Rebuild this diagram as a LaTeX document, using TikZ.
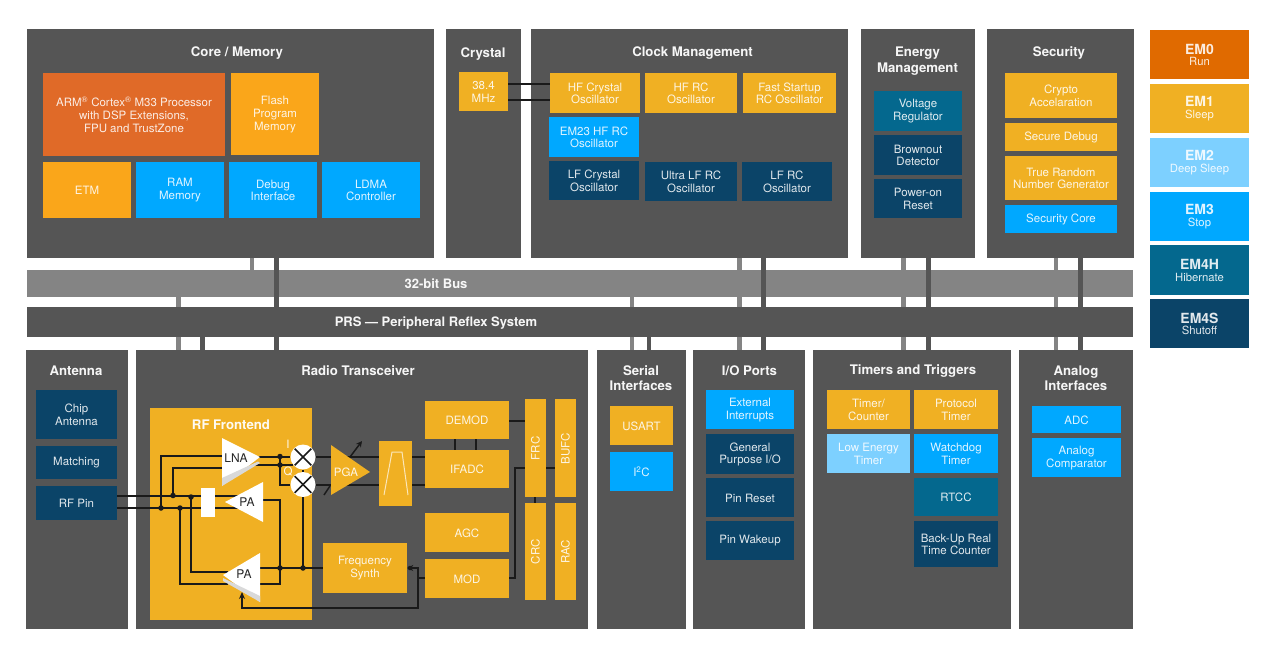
\documentclass[tikz,border=0pt]{standalone}
\usepackage{fontspec}
\usepackage{graphicx}
\setmainfont{TeX Gyre Heros}
\usetikzlibrary{arrows.meta,calc}
\definecolor{panel}{HTML}{555555}
\definecolor{busc}{HTML}{848484}
\definecolor{orng}{HTML}{E06A28}
\definecolor{emzero}{HTML}{E06A00}
\definecolor{amber}{HTML}{FAA61A}
\definecolor{yel}{HTML}{F0B023}
\definecolor{sky}{HTML}{00A8FF}
\definecolor{lsky}{HTML}{7DD0FF}
\definecolor{teal}{HTML}{04688E}
\definecolor{navy}{HTML}{0B4468}
\definecolor{wire}{HTML}{1A1A1A}
\definecolor{cream}{HTML}{FBE6B8}
\tikzset{
  bxs/.style={inner sep=0pt,align=center,font=\fontsize{11.5}{12.8}\selectfont,text=white,text opacity=.88},
  ttl/.style={inner sep=0pt,yshift=-1pt,align=center,font=\fontsize{13.2}{15.6}\selectfont\bfseries,text=white,text opacity=.95},
  wr/.style={draw=wire,line width=2pt},
  stubl/.style={draw=busc,line width=4.8pt},
  stubd/.style={draw=panel,line width=4.8pt},
  dot/.style={circle,fill=wire,inner sep=0pt,minimum size=5.5pt},
  mixer/.style={circle,fill=white,inner sep=0pt,minimum size=25pt},
  ampl/.style={inner sep=0pt,font=\fontsize{12}{13}\selectfont,text=black!85},
}
\newcommand{\bx}[7]{\node[inner sep=0pt,fill=#6,minimum width={(#4-#2)*1pt},minimum height={(#5-#3)*1pt}] (#1) at ({(#2+#4)/2},{(#3+#5)/2}) {};
  \node[bxs,yshift=-0.4pt] (#1t) at (#1.center) {#7};}
\newcommand{\ttlat}[4]{\node[ttl] (#1) at (#2,#3) {#4};}
\begin{document}
\begin{tikzpicture}[x=1pt,y=-1pt]
\useasboundingbox (0,0) rectangle (1280,670);
\fill[white] (0,0) rectangle (1280,670);
% panels
\bx{core}{27}{29}{434}{258}{panel}{}
\bx{xtal}{446}{29}{521}{258}{panel}{}
\bx{clock}{531}{29}{848}{258}{panel}{}
\bx{energy}{861}{29}{975}{258}{panel}{}
\bx{secur}{987}{29}{1134}{258}{panel}{}
\bx{antenna}{26}{350}{128}{629}{panel}{}
\bx{radio}{136}{350}{588}{629}{panel}{}
\bx{serial}{597}{350}{686}{629}{panel}{}
\bx{ioports}{693}{350}{805}{629}{panel}{}
\bx{timers}{813}{350}{1011}{629}{panel}{}
\bx{analog}{1019}{350}{1133}{629}{panel}{}
% bus placeholders and stubs
\node[inner sep=0pt,minimum width=1106pt,minimum height=27pt] (bus) at (580,283.5) {};
\node[inner sep=0pt,minimum width=1106pt,minimum height=30pt] (prs) at (580,322) {};
\foreach \x/\t in {252/core,739.5/clock,903.5/energy,1056/secur}{
  \draw[stubl] (\x,0 |- \t.south) -- (\x,0 |- bus.north);}
\foreach \x/\b in {178.5/radio,739.5/ioports,903.5/timers,1056/analog}{
  \draw[stubl] (\x,0 |- bus.south) -- (\x,0 |- prs.north);
  \draw[stubl] (\x,0 |- prs.south) -- (\x,0 |- \b.north);}
\draw[stubl] (632,0 |- bus.south) -- (632,0 |- prs.north);
\draw[stubl] (632,0 |- prs.south) -- (632,0 |- serial.north);
\fill[busc] (bus.north west) rectangle (bus.south east);
\fill[panel] (prs.north west) rectangle (prs.south east);
\foreach \x/\t/\b in {276.5/core/radio,763.8/clock/ioports,928.3/energy/timers,1080.7/secur/analog}{
  \draw[stubd] (\x,0 |- \t.south) -- (\x,0 |- prs.north);
  \draw[stubd] (\x,0 |- prs.south) -- (\x,0 |- \b.north);}
\draw[stubd] (202.5,0 |- prs.south) -- (202.5,0 |- radio.north);
\draw[stubd] (649,0 |- prs.south) -- (649,0 |- serial.north);
\node[ttl,font=\fontsize{13}{14}\selectfont\bfseries] (buslbl) at (436,282.5) {32-bit Bus};
\node[ttl,font=\fontsize{13}{14}\selectfont\bfseries] (prslbl) at (436,322) {PRS — Peripheral Reflex System};
% titles
\ttlat{t1}{237}{52}{Core / Memory}
\ttlat{t2}{483}{53}{Crystal}
\ttlat{t3}{692.5}{52}{Clock Management}
\ttlat{t4}{917.5}{60}{Energy\\Management}
\ttlat{t5}{1059}{52}{Security}
\ttlat{t6}{76}{369.3}{Antenna}
\ttlat{t7}{358}{369.3}{Radio Transceiver}
\ttlat{t8}{641}{377.3}{Serial\\Interfaces}
\ttlat{t9}{749.5}{369.3}{I/O Ports}
\ttlat{t10}{913}{370}{Timers and Triggers}
\ttlat{t11}{1076}{377.3}{Analog\\Interfaces}
% core
\bx{arm}{43}{73}{225}{156}{orng}{ARM\textsuperscript{®} Cortex\textsuperscript{®} M33 Processor\\with DSP Extensions,\\FPU and TrustZone}
\bx{flash}{231}{73}{319}{155}{amber}{Flash\\Program\\Memory}
\bx{etm}{43}{162}{131}{218}{amber}{ETM}
\bx{ram}{136}{162}{224}{218}{sky}{RAM\\Memory}
\bx{debug}{229}{162}{317}{218}{sky}{Debug\\Interface}
\bx{ldma}{322}{162}{420}{218}{sky}{LDMA\\Controller}
% crystal / clock
\bx{mhz}{459}{72}{508}{111}{yel}{38.4\\MHz}
\bx{hfx}{550}{73}{640}{113}{yel}{HF Crystal\\Oscillator}
\bx{hfrc}{645}{73}{737}{113}{yel}{HF RC\\Oscillator}
\bx{fast}{743}{73}{836}{113}{yel}{Fast Startup\\RC Oscillator}
\bx{em23}{549}{117}{639}{157}{sky}{EM23 HF RC\\Oscillator}
\bx{lfx}{549}{161}{639}{200}{navy}{LF Crystal\\Oscillator}
\bx{ulf}{645}{162}{737}{201}{navy}{Ultra LF RC\\Oscillator}
\bx{lfrc}{742}{162}{832}{201}{navy}{LF RC\\Oscillator}
\draw[wr] (508,84) coordinate (mhzA) -- (mhzA -| hfx.west);
\draw[wr] (508,99.5) coordinate (mhzB) -- (mhzB -| hfx.west);
% energy / security
\bx{volt}{874}{91}{962}{131}{teal}{Voltage\\Regulator}
\bx{brown}{874}{135}{962}{175}{navy}{Brownout\\Detector}
\bx{por}{874}{179}{962}{218}{navy}{Power-on\\Reset}
\bx{crypto}{1005}{73}{1117}{118}{yel}{Crypto\\Accelaration}
\bx{sdebug}{1005}{123}{1117}{151}{yel}{Secure Debug}
\bx{trng}{1005}{156}{1117}{200}{yel}{True Random\\Number Generator}
\bx{score}{1005}{205}{1117}{233}{sky}{Security Core}
% EM legend
\newcommand{\emlab}[2]{{\fontsize{14}{14}\selectfont\bfseries #1}\\[-1pt]{\fontsize{11.3}{13}\selectfont #2}}
\bx{em0}{1150}{30}{1249}{79}{emzero}{\emlab{EM0}{Run}}
\bx{em1}{1150}{84}{1249}{133}{yel}{\emlab{EM1}{Sleep}}
\bx{em2}{1150}{138}{1249}{187}{lsky}{\emlab{EM2}{Deep Sleep}}
\bx{em3}{1150}{192}{1249}{241}{sky}{\emlab{EM3}{Stop}}
\bx{em4h}{1150}{245}{1249}{295}{teal}{\emlab{EM4H}{Hibernate}}
\bx{em4s}{1150}{299}{1249}{348}{navy}{\emlab{EM4S}{Shutoff}}
% antenna
\bx{chip}{36}{390}{117}{439}{navy}{Chip\\Antenna}
\bx{match}{36}{446}{117}{479}{navy}{Matching}
\bx{rfpin}{36}{486}{117}{520}{navy}{RF Pin}
% serial, io, timers, analog
\bx{usart}{610}{406}{673}{445}{yel}{USART}
\bx{itwoc}{610}{452}{673}{491}{sky}{I\textsuperscript{2}C}
\bx{ext}{706}{390}{794}{429}{sky}{External\\Interrupts}
\bx{gpio}{706}{434}{794}{474}{navy}{General\\Purpose I/O}
\bx{preset}{706}{478}{794}{517}{navy}{Pin Reset}
\bx{pwake}{706}{521}{794}{560}{navy}{Pin Wakeup}
\bx{tc}{827}{390}{910}{429}{yel}{Timer/\\Counter}
\bx{proto}{914}{390}{998}{429}{yel}{Protocol\\Timer}
\bx{letim}{827}{434}{910}{473}{lsky}{Low Energy\\Timer}
\bx{wdog}{914}{434}{998}{473}{sky}{Watchdog\\Timer}
\bx{rtcc}{914}{478}{998}{516}{teal}{RTCC}
\bx{backup}{914}{521}{998}{567}{navy}{Back-Up Real\\Time Counter}
\bx{adc}{1032}{406}{1121}{433}{sky}{ADC}
\bx{comp}{1032}{438}{1121}{477}{sky}{Analog\\Comparator}
% radio
\bx{front}{150}{408}{312}{620}{yel}{}
\ttlat{t12}{231}{423.5}{RF Frontend}
\bx{synth}{323}{543}{407}{593}{yel}{Frequency\\Synth}
\bx{demod}{425}{401}{509}{439}{yel}{DEMOD}
\bx{ifadc}{425}{450}{509}{488}{yel}{IFADC}
\bx{agc}{425}{513}{509}{552}{yel}{AGC}
\bx{mod}{425}{559}{509}{598}{yel}{MOD}
\bx{frc}{525}{399}{546}{497}{yel}{\rotatebox{90}{FRC}}
\bx{bufc}{555}{399}{576}{497}{yel}{\rotatebox{90}{BUFC}}
\bx{crc}{525}{503}{546}{600}{yel}{\rotatebox{90}{CRC}}
\bx{rac}{555}{503}{576}{600}{yel}{\rotatebox{90}{RAC}}
\bx{filter}{379}{441}{412}{506}{yel}{}
\draw[cream,line width=1pt] (384,495) -- (392,452) -- (402,452) -- (408,495);
% junction coordinates
\coordinate (ja) at (161,508); \coordinate (jb) at (173,495.5);
\coordinate (jc) at (191,497); \coordinate (jd) at (180,508);
\coordinate (je) at (280,456.5); \coordinate (jf) at (280,465);
\coordinate (jg) at (280,568); \coordinate (jh) at (303,568);
\coordinate (ji) at (418,568); \coordinate (jk) at (418,608);
\coordinate (jl) at (242,608); \coordinate (jm) at (515,578);
\coordinate (jn) at (515,468.3);
\node[mixer] (mixI) at (303,457) {};
\node[mixer] (mixQ) at (303,484.5) {};
% wires in RF
\draw[wr] (rfpin.east |- jb) -- (201,495.5);
\draw[wr] (rfpin.east |- ja) -- (201,508);
\draw[wr] (215,496) -- (240,496);
\draw[wr] (215,508) -- (240,508);
\draw[wr] (ja) -- (161,456) -- (225,456);
\draw[wr] (jb) -- (173,468) -- (225,468);
\draw[wr] (jc) -- (191,572) -- (228,572);
\draw[wr] (jd) -- (180,584) -- (228,584);
\draw[wr] (255,457) -- (mixI.west);
\draw[wr] (255,465) -- (293,465);
\draw[wr] (je) -- (jf) -- (280,484.5) -- (mixQ.west);
\draw[wr] (255,500) -- (280,500) -- (280,584) -- (255,584);
\draw[wr] (255,568) -- (synth.west |- jg);
\draw[wr] (mixQ.south) -- (jh);
\draw[wr] (mixI.south) -- (mixQ.north);
\draw[wr] (mixI.east) -- (filter.west |- mixI);
\draw[wr] (mixQ.east) -- (filter.west |- mixQ);
\draw[wr] (filter.east |- mixI) -- (ifadc.west |- mixI);
\draw[wr] (filter.east |- mixQ) -- (ifadc.west |- mixQ);
\draw[wr,-{Stealth[length=6pt,width=6pt]}] (mod.west |- 0,578) -- (418,578) -- (ji) -- (synth.east |- ji);
\draw[wr,-{Stealth[length=7pt,width=6pt]}] (ji) -- (jk) -- (jl) -- (242,592);
\draw[wr] (454.7,0 |- demod.south) -- (454.7,0 |- ifadc.north);
\draw[wr] (475.7,0 |- demod.south) -- (475.7,0 |- ifadc.north);
\draw[wr] (demod.east |- 0,420.7) -- (frc.west |- 0,420.7);
\draw[wr] (mod.east |- jm) -- (jm) -- (jn) -- (frc.west |- jn);
\draw[wr] (frc.east |- jn) -- (bufc.west |- jn);
\draw[wr] (535.3,0 |- frc.south) -- (535.3,0 |- crc.north);
% amplifiers
\fill[white] (222,438) -- (260,457) -- (222,486) -- cycle;
\fill[black!15] (222,478) -- (258,461.5) -- (260,463) -- (222,486) -- cycle;
\fill[white] (263,482) -- (225,502) -- (263,522) -- cycle;
\fill[white] (260,553) -- (223,575) -- (260,602) -- cycle;
\fill[black!15] (223,578) -- (260,596) -- (260,602) -- (223,581) -- cycle;
\fill[yel] (331,445) -- (370,472) -- (331,495) -- cycle;
\fill[white] (201,488) rectangle (215,517);
\node[ampl] (lna) at (236,458) {LNA};
\node[ampl] (pa1) at (247,502) {PA};
\node[ampl] (pa2) at (244,574) {PA};
\node[bxs] (pga) at (346,472) {PGA};
\node[bxs] (ilbl) at (288,444) {I};
\node[bxs] (qlbl) at (288,472) {Q};
% variable markers
\draw[wire,line width=1.5pt,-{Stealth[length=6pt,width=6pt]}] (350,457) -- (362,441);
\draw[wire,line width=1.5pt] (324,495) -- (330,486);
% mixers
\foreach \m in {mixI,mixQ}{
  \draw[wire,line width=1.6pt,shorten >=1pt,shorten <=1pt] (\m.45) -- (\m.225);
  \draw[wire,line width=1.6pt,shorten >=1pt,shorten <=1pt] (\m.135) -- (\m.315);
}
% dots
\foreach \d in {ja,jb,jc,jd,je,jf,jg,jh}{\node[dot] at (\d) {};}
\node[dot,minimum size=4.5pt] at (410,568) {};
\end{tikzpicture}
\end{document}
